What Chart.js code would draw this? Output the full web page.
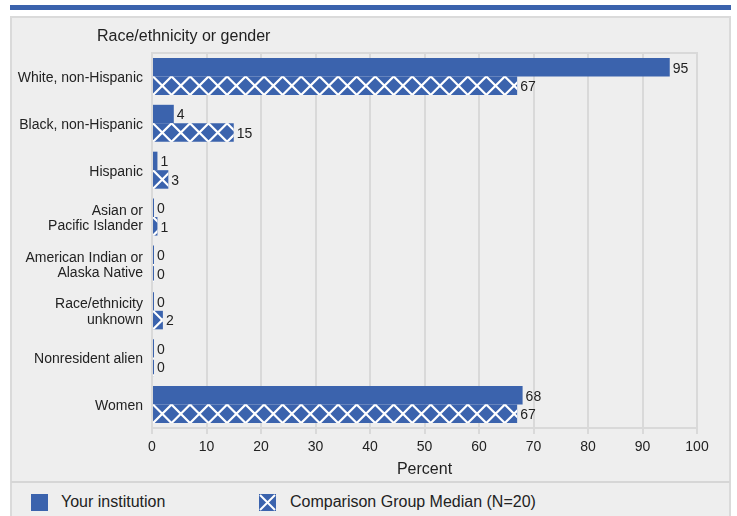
<!DOCTYPE html>
<html>
<head>
<meta charset="utf-8">
<script src="https://cdn.jsdelivr.net/npm/chart.js@4.4.1/dist/chart.umd.min.js"></script>
<style>
  html, body { margin: 0; padding: 0; background: #ffffff; }
  #page { position: relative; width: 737px; height: 516px; overflow: hidden; font-family: "Liberation Sans", Arial, sans-serif; color: #222; }
  #topbar { position: absolute; left: 10px; top: 5px; width: 721px; height: 5px; background: #3b63ad; }
  #panel { position: absolute; left: 10px; top: 16px; width: 721px; height: 510px; background: #eeeeee; border: 2px solid #dadada; box-sizing: border-box; }
  #sep { position: absolute; left: 11px; top: 481px; width: 719px; height: 2px; background: #d6d6d6; }
  #chartbox { position: absolute; left: 0; top: 0; width: 737px; height: 482px; }
  .leg { position: absolute; top: 493px; height: 18px; line-height: 18px; font-size: 16px; white-space: nowrap; }
  .sw { position: absolute; top: 494px; width: 17px; height: 17px; }
</style>
</head>
<body>
<div id="page">
  <div id="topbar"></div>
  <div id="panel"></div>
  <div id="sep"></div>
  <div id="chartbox"><canvas id="c" width="737" height="482"></canvas></div>
  <div class="sw" style="left:31px;background:#3b63ad;"></div>
  <div class="leg" style="left:61px;">Your institution</div>
  <svg class="sw" style="left:259px;" width="17" height="17" viewBox="0 0 17 17">
    <rect x="0" y="0" width="17" height="17" fill="#3b63ad"/>
    <line x1="1" y1="1" x2="16" y2="16" stroke="#fff" stroke-width="2"/>
    <line x1="16" y1="1" x2="1" y2="16" stroke="#fff" stroke-width="2"/>
  </svg>
  <div class="leg" style="left:290px;">Comparison Group Median (N=20)</div>
</div>
<script>
const categories = [
  "White, non-Hispanic",
  "Black, non-Hispanic",
  "Hispanic",
  ["Asian or", "Pacific Islander"],
  ["American Indian or", "Alaska Native"],
  ["Race/ethnicity", "unknown"],
  "Nonresident alien",
  "Women"
];
const yourInstitution = [95, 4, 1, 0, 0, 0, 0, 68];
const comparisonMedian = [67, 15, 3, 1, 0, 2, 0, 67];
const xTicks = [0, 10, 20, 30, 40, 50, 60, 70, 80, 90, 100];
const seriesNames = ["Your institution", "Comparison Group Median (N=20)"];
const axisTitleY = "Race/ethnicity or gender";
const axisTitleX = "Percent";

const BLUE = "#3b63ad";
const FONT = "'Liberation Sans', Arial, sans-serif";

const decorPlugin = {
  id: "decor",
  beforeDraw(chart) {
    const ctx = chart.ctx;
    ctx.save();
    ctx.fillStyle = "#222";
    ctx.font = "16px " + FONT;
    ctx.textAlign = "left";
    ctx.textBaseline = "middle";
    ctx.fillText(axisTitleY, 97, 37);
    ctx.restore();
  },
  beforeDatasetsDraw(chart) {
    const a = chart.chartArea;
    const ctx = chart.ctx;
    ctx.save();
    ctx.strokeStyle = "#d9d9d9";
    ctx.lineWidth = 2;
    ctx.strokeRect(a.left, a.top, a.right - a.left, a.bottom - a.top);
    ctx.restore();
  },
  afterDatasetsDraw(chart) {
    const ctx = chart.ctx;
    const meta1 = chart.getDatasetMeta(1);
    meta1.data.forEach((bar) => {
      const p = bar.getProps(["x", "y", "base", "height"], true);
      const left = Math.min(p.base, p.x), right = Math.max(p.base, p.x);
      const top = p.y - p.height / 2, bottom = p.y + p.height / 2;
      const mid = p.y, h = p.height / 2;
      ctx.save();
      ctx.beginPath();
      ctx.rect(left, top, right - left, bottom - top);
      ctx.clip();
      ctx.strokeStyle = "#ffffff";
      ctx.lineWidth = 2.2;
      const period = p.height;
      for (let cx = left + period / 2 - period; cx < right + period; cx += period) {
        ctx.beginPath();
        ctx.moveTo(cx - h - 2, mid - h - 2);
        ctx.lineTo(cx + h + 2, mid + h + 2);
        ctx.moveTo(cx - h - 2, mid + h + 2);
        ctx.lineTo(cx + h + 2, mid - h - 2);
        ctx.stroke();
      }
      ctx.restore();
    });
    ctx.save();
    ctx.fillStyle = "#222";
    ctx.font = "14px " + FONT;
    ctx.textAlign = "left";
    ctx.textBaseline = "middle";
    chart.data.datasets.forEach((ds, di) => {
      const meta = chart.getDatasetMeta(di);
      meta.data.forEach((bar, i) => {
        const p = bar.getProps(["x", "y"], true);
        ctx.fillText(String(ds.data[i]), p.x + 3, p.y + 1.5);
      });
    });
    ctx.restore();
  }
};

new Chart(document.getElementById("c"), {
  type: "bar",
  data: {
    labels: categories,
    datasets: [
      { label: seriesNames[0], data: yourInstitution, backgroundColor: BLUE, minBarLength: 2 },
      { label: seriesNames[1], data: comparisonMedian, backgroundColor: BLUE, minBarLength: 2 }
    ]
  },
  options: {
    indexAxis: "y",
    responsive: false,
    animation: false,
    devicePixelRatio: 1,
    categoryPercentage: 0.79,
    barPercentage: 1.0,
    layout: { padding: { left: 0, right: 40, top: 53, bottom: 0 } },
    plugins: { legend: { display: false }, tooltip: { enabled: false } },
    scales: {
      x: {
        min: 0, max: 100,
        afterFit(scale) { scale.height = 54; },
        afterBuildTicks(scale) { scale.ticks = xTicks.map(v => ({ value: v })); },
        grid: { color: "#d9d9d9", lineWidth: 2, tickLength: 6 },
        border: { display: true, color: "#d9d9d9", width: 2 },
        ticks: { color: "#222", font: { family: FONT, size: 14 }, padding: 5, maxRotation: 0 },
        title: { display: true, text: axisTitleX, color: "#222", font: { family: FONT, size: 16 }, padding: { top: 0, bottom: 3 } }
      },
      y: {
        afterFit(scale) { scale.width = 152; },
        grid: { display: false, drawTicks: false },
        border: { display: false },
        ticks: { color: "#222", font: { family: FONT, size: 14, lineHeight: 1.1 }, padding: 9, labelOffset: 1.5, autoSkip: false }
      }
    }
  },
  plugins: [decorPlugin]
});
</script>
</body>
</html>
